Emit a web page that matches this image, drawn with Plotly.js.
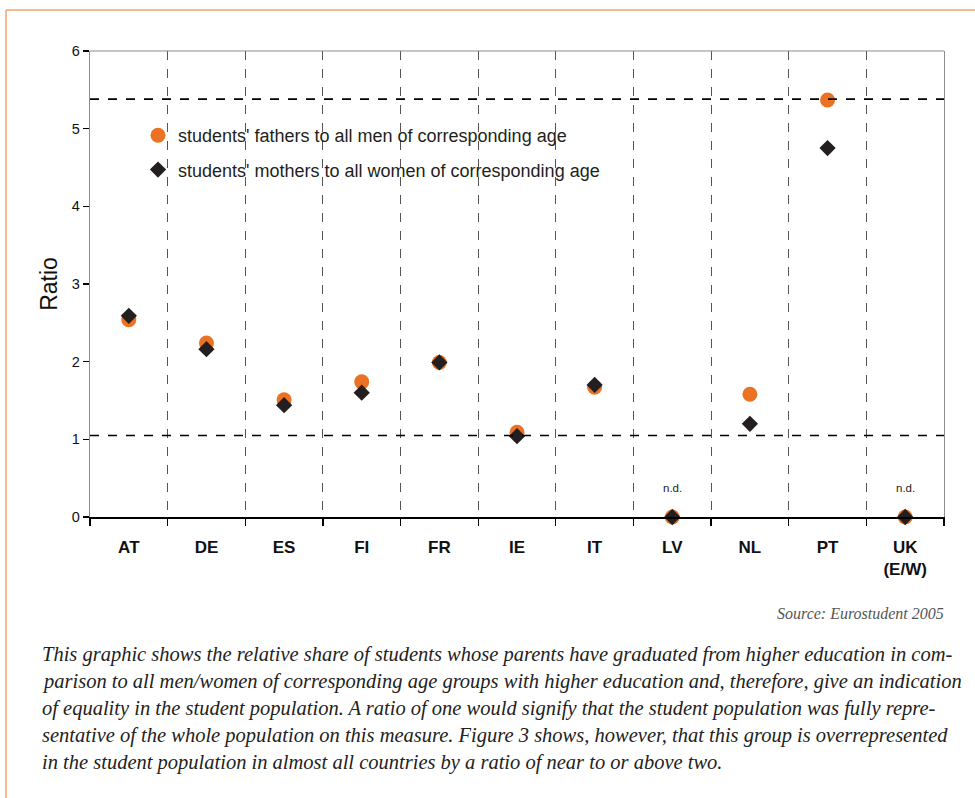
<!DOCTYPE html>
<html>
<head>
<meta charset="utf-8">
<script src="https://cdn.plot.ly/plotly-3.0.1.min.js"></script>
<style>html,body{margin:0;padding:0;background:#fff;}#chart{width:975px;height:798px;}</style>
</head>
<body>
<div id="chart"></div>
<script>
// ---- data ----
const countries = ["AT", "DE", "ES", "FI", "FR", "IE", "IT", "LV", "NL", "PT", "UK<br>(E/W)"];
const fathers = [2.54, 2.24, 1.51, 1.74, 1.99, 1.09, 1.67, 0, 1.58, 5.37, 0];
const mothers = [2.59, 2.16, 1.44, 1.60, 1.99, 1.04, 1.70, 0, 1.20, 4.75, 0];
const noData = ["LV", "UK<br>(E/W)"];
const refLines = [5.38, 1.05];
const yTicks = [0, 1, 2, 3, 4, 5, 6];
const fatherName = "students' fathers to all men of corresponding age";
const motherName = "students' mothers to all women of corresponding age";
const sourceText = "Source: Eurostudent 2005";
const captionLines = [
  "This graphic shows the relative share of students whose parents have graduated from higher education in com-",
  "parison to all men/women of corresponding age groups with higher education and, therefore, give an indication",
  "of equality in the student population. A ratio of one would signify that the student population was fully repre-",
  "sentative of the whole population on this measure. Figure 3 shows, however, that this group is overrepresented",
  "in the student population in almost all countries by a ratio of near to or above two."
];

// ---- layout helpers (pixel -> paper) ----
const W = 975, H = 798, L = 90, R = 31, T = 51, B = 281;
const pw = W - L - R, ph = H - T - B;
const px = x => (x - L) / pw;
const py = y => (H - B - y) / ph;

const traces = [
  {
    type: "scatter", mode: "markers", x: countries, y: fathers, name: fatherName,
    legendgroup: "f",
    marker: {symbol: "circle", size: 15, color: "#EB7123"},
    cliponaxis: false, hoverinfo: "x+y"
  },
  {
    type: "scatter", mode: "markers", x: countries, y: mothers, name: motherName,
    legendgroup: "m",
    marker: {symbol: "diamond", size: 12.5, color: "#231F20"},
    cliponaxis: false, hoverinfo: "x+y"
  }
];

const shapes = [];
refLines.forEach(v => shapes.push({
  type: "line", xref: "paper", yref: "y", x0: 0, x1: 1, y0: v, y1: v,
  line: {color: "#000", width: 1.6, dash: "dash"}
}));
// top frame line
shapes.push({type: "line", xref: "paper", yref: "paper", x0: 0, x1: 1, y0: 1, y1: 1,
  line: {color: "#8c8c8c", width: 1.2}});
// page border (orange)
shapes.push({type: "line", xref: "paper", yref: "paper", x0: px(6), x1: px(6), y0: py(10), y1: py(800),
  line: {color: "#F4A46E", width: 1.5}});
shapes.push({type: "line", xref: "paper", yref: "paper", x0: px(6), x1: px(980), y0: py(10), y1: py(10),
  line: {color: "#F4A46E", width: 1.5}});

const annotations = [];
noData.forEach(c => annotations.push({
  x: c, y: 0, xref: "x", yref: "y", text: "n.d.", showarrow: false,
  yshift: 29, font: {family: "Liberation Sans, Arial, sans-serif", size: 11.5, color: "#222"}
}));
annotations.push({
  xref: "paper", yref: "paper", x: px(946), y: py(614), xanchor: "right", yanchor: "middle",
  text: "<i>" + sourceText + "</i>", showarrow: false,
  font: {family: "Liberation Serif, serif", size: 16, color: "#555"}
});
const capY = [654, 681, 708, 735, 762];
captionLines.forEach((t, i) => annotations.push({
  xref: "paper", yref: "paper", x: px(40), y: py(capY[i]), xanchor: "left", yanchor: "middle",
  text: "<i>" + t + "</i>", showarrow: false,
  font: {family: "Liberation Serif, serif", size: 20.5, color: "#222"}
}));

const layout = {
  width: W, height: H,
  margin: {l: L, r: R, t: T, b: B},
  paper_bgcolor: "#fff", plot_bgcolor: "#fff",
  showlegend: true,
  legend: {
    x: px(138), y: py(117), xanchor: "left", yanchor: "top",
    bgcolor: "rgba(0,0,0,0)", borderwidth: 0,
    font: {family: "Liberation Sans Narrow, Arial Narrow, sans-serif", size: 18, color: "#231F20"},
    itemwidth: 30, traceorder: "grouped", tracegroupgap: 8
  },
  xaxis: {
    type: "category", range: [-0.5, countries.length - 0.5], fixedrange: true,
    tickson: "boundaries", ticks: "outside", ticklen: 7, tickcolor: "#000", tickwidth: 1.2,
    showgrid: true, gridcolor: "#555", griddash: "dash", gridwidth: 1,
    showline: true, linecolor: "#000", linewidth: 1.5,
    tickfont: {family: "Liberation Sans, Arial, sans-serif", size: 17, color: "#111", weight: "bold"},
    ticklabelstandoff: 14, zeroline: false
  },
  yaxis: {
    range: [0, 6], tickvals: yTicks, fixedrange: true,
    ticks: "outside", ticklen: 6, tickcolor: "#000", tickwidth: 1.2,
    showgrid: false, zeroline: false,
    showline: true, linecolor: "#8c8c8c", linewidth: 1.2, mirror: true,
    tickfont: {family: "Liberation Sans, Arial, sans-serif", size: 14.5, color: "#111"},
    title: {text: "Ratio", font: {family: "Liberation Sans, Arial, sans-serif", size: 23, color: "#111"}, standoff: 7}
  },
  shapes: shapes,
  annotations: annotations
};

Plotly.newPlot("chart", traces, layout, {displayModeBar: false, staticPlot: true});
</script>
</body>
</html>
